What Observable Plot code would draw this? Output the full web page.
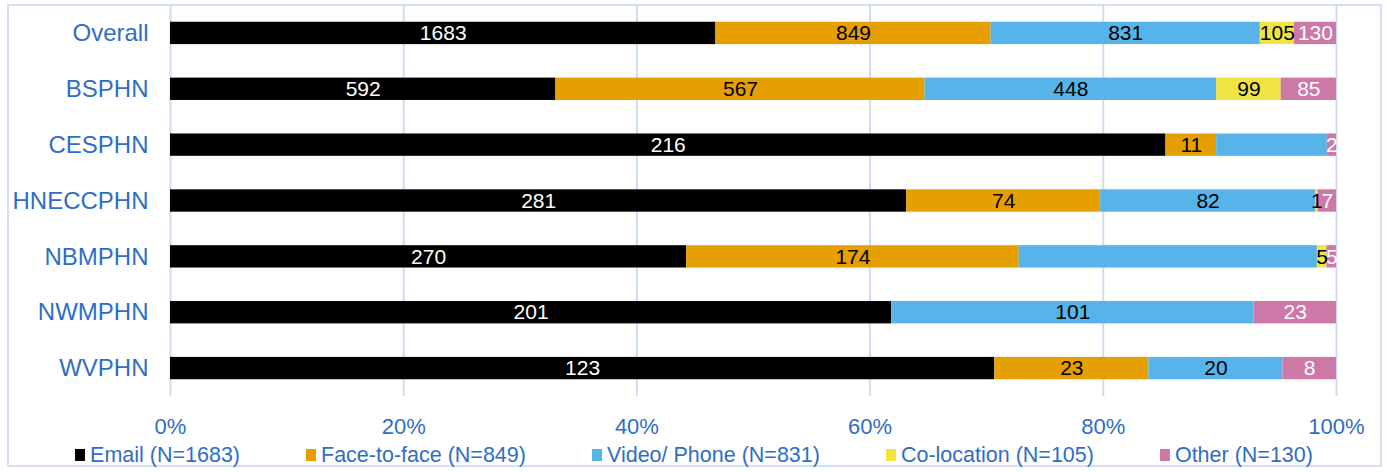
<!DOCTYPE html>
<html>
<head>
<meta charset="utf-8">
<script src="https://cdn.jsdelivr.net/npm/d3@7"></script>
<script src="https://cdn.jsdelivr.net/npm/@observablehq/plot@0.6"></script>
<style>
  body { margin: 0; background: #fff; }
  #wrap { position: relative; width: 1388px; height: 472px; font-family: "Liberation Sans", Arial, sans-serif; }
  #frame { position: absolute; left: 7px; top: 4px; width: 1375px; height: 463px; border: 2px solid #d3e0f3; box-sizing: border-box; }
  #chart { position: absolute; left: 0; top: 0; }
  #legend { position: absolute; left: 0; top: 443px; width: 1388px; display: flex; justify-content: center; gap: 66px; font-size: 21.5px; color: #2f6ec4; line-height: 24px; }
  .item { display: flex; align-items: center; white-space: nowrap; }
  .sw { width: 10px; height: 12px; margin-right: 5px; display: inline-block; }
</style>
</head>
<body>
<div id="wrap">
  <div id="frame"></div>
  <div id="chart"></div>
  <div id="legend"></div>
</div>
<script>
const categories = ["Overall", "BSPHN", "CESPHN", "HNECCPHN", "NBMPHN", "NWMPHN", "WVPHN"];
const series = ["Email", "Face-to-face", "Video/ Phone", "Co-location", "Other"];
const email      = [1683, 592, 216, 281, 270, 201, 123];
const faceToFace = [849, 567, 11, 74, 174, 0, 23];
const videoPhone = [831, 448, 24, 82, 156, 101, 20];
const coLocation = [105, 99, 0, 1, 5, 0, 0];
const other      = [130, 85, 2, 7, 5, 23, 8];
const legendLabels = ["Email (N=1683)", "Face-to-face (N=849)", "Video/ Phone (N=831)", "Co-location (N=105)", "Other (N=130)"];
const seriesColors = ["#000000", "#e69f00", "#56b4e9", "#f0e442", "#cc79a7"];
const whiteLabelSeries = ["Email", "Other"];
const hiddenLabels = ["CESPHN|Video/ Phone", "NBMPHN|Video/ Phone"];
const xTicks = [0, 0.2, 0.4, 0.6, 0.8, 1];

const valuesBySeries = [email, faceToFace, videoPhone, coLocation, other];
const data = [];
categories.forEach((cat, i) => {
  series.forEach((s, j) => {
    data.push({cat, series: s, value: valuesBySeries[j][i]});
  });
});

const blue = "#2f6ec4";
const showLabel = d => d.value > 0 && !hiddenLabels.includes(d.cat + "|" + d.series);
const stackOpts = extra => Plot.stackX({offset: "normalize", x: "value", y: "cat", z: "series", order: series, ...extra});

const chart = Plot.plot({
  width: 1388,
  height: 440,
  marginLeft: 170,
  marginRight: 52,
  marginTop: 5,
  marginBottom: 44,
  style: {fontFamily: "'Liberation Sans', Arial, sans-serif", color: blue, background: "transparent"},
  x: {domain: [0, 1], label: null},
  y: {domain: categories, paddingInner: 0.6, paddingOuter: 0.3, round: false, label: null},
  color: {domain: series, range: seriesColors},
  marks: [
    Plot.gridX(xTicks, {stroke: "#cddcf1", strokeOpacity: 1, strokeWidth: 2}),
    Plot.barX(data, stackOpts({fill: "series"})),
    Plot.text(data, stackOpts({
      text: d => (showLabel(d) && whiteLabelSeries.includes(d.series)) ? String(d.value) : "",
      fill: "white", fontSize: 21
    })),
    Plot.text(data, stackOpts({
      text: d => (showLabel(d) && !whiteLabelSeries.includes(d.series)) ? String(d.value) : "",
      fill: "black", fontSize: 21
    })),
    Plot.axisX({ticks: xTicks, tickFormat: d3.format(".0%"), tickSize: 0, tickPadding: 22, fontSize: 22, fill: blue, label: null}),
    Plot.axisY({tickSize: 0, tickPadding: 22, fontSize: 24, fill: blue, label: null})
  ]
});
document.getElementById("chart").appendChild(chart);

const legend = document.getElementById("legend");
series.forEach((s, i) => {
  const item = document.createElement("div");
  item.className = "item";
  const sw = document.createElement("span");
  sw.className = "sw";
  sw.style.background = seriesColors[i];
  const label = document.createElement("span");
  label.textContent = legendLabels[i];
  item.appendChild(sw);
  item.appendChild(label);
  legend.appendChild(item);
});
</script>
</body>
</html>
